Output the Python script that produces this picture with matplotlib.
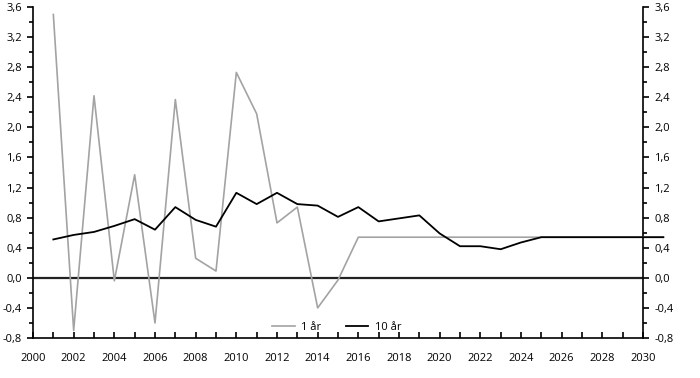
import matplotlib
matplotlib.use("Agg")
import matplotlib.pyplot as plt
from matplotlib.ticker import MultipleLocator, FuncFormatter

plt.rcParams['font.family'] = ['Open Sans', 'DejaVu Sans']

years = list(range(2001, 2032))
one_year = [3.50, -0.70, 2.42, -0.04, 1.37, -0.60, 2.37, 0.26, 0.09, 2.73,
            2.18, 0.73, 0.94, -0.40, -0.03, 0.54, 0.54, 0.54, 0.54, 0.54,
            0.54, 0.54, 0.54, 0.54, 0.54, 0.54, 0.54, 0.54, 0.54, 0.54, 0.54]
ten_year = [0.51, 0.57, 0.61, 0.69, 0.78, 0.64, 0.94, 0.77, 0.68, 1.13,
            0.98, 1.13, 0.98, 0.96, 0.81, 0.94, 0.75, 0.79, 0.83, 0.59,
            0.42, 0.42, 0.38, 0.47, 0.54, 0.54, 0.54, 0.54, 0.54, 0.54, 0.54]
labels = ["1 år", "10 år"]

fig = plt.figure(figsize=(7.0, 3.78), dpi=100)
ax = fig.add_axes([33/700, 40/378, 610/700, 331/378])

ax.plot(years, one_year, color="#a3a3a3", lw=1.2, label=labels[0], clip_on=False, zorder=3)
ax.plot(years, ten_year, color="black", lw=1.3, label=labels[1], clip_on=False, zorder=4)
ax.axhline(0, color="#222222", lw=1.6, zorder=2)

ax.set_xlim(2000, 2030)
ax.set_ylim(-0.8, 3.6)

ax.xaxis.set_major_locator(MultipleLocator(2))
ax.xaxis.set_minor_locator(MultipleLocator(1))
ax.yaxis.set_major_locator(MultipleLocator(0.4))
ax.yaxis.set_minor_locator(MultipleLocator(0.2))
fmt = FuncFormatter(lambda v, p: f"{v:.1f}".replace(".", ",").replace("-0,0", "0,0"))
ax.yaxis.set_major_formatter(fmt)

ax.spines['top'].set_visible(False)
for s in ['left', 'right', 'bottom']:
    ax.spines[s].set_linewidth(1.2)
    ax.spines[s].set_color("black")

ax.tick_params(axis='x', which='both', direction='in', length=4, width=1.2,
               labelsize=8, pad=11, colors='black')
ax.tick_params(axis='y', which='major', direction='out', length=4, width=1.2,
               labelsize=8, left=True, right=True, labelleft=True, labelright=True, pad=4)
ax.tick_params(axis='y', which='minor', direction='out', length=3, width=1.2,
               left=True, right=True)

ax.legend(loc='lower center', bbox_to_anchor=(0.498, -0.015), ncol=2, frameon=False,
          fontsize=8, handlelength=2.0, columnspacing=2.2, handletextpad=0.6)

fig.savefig("out.png", dpi=100)
